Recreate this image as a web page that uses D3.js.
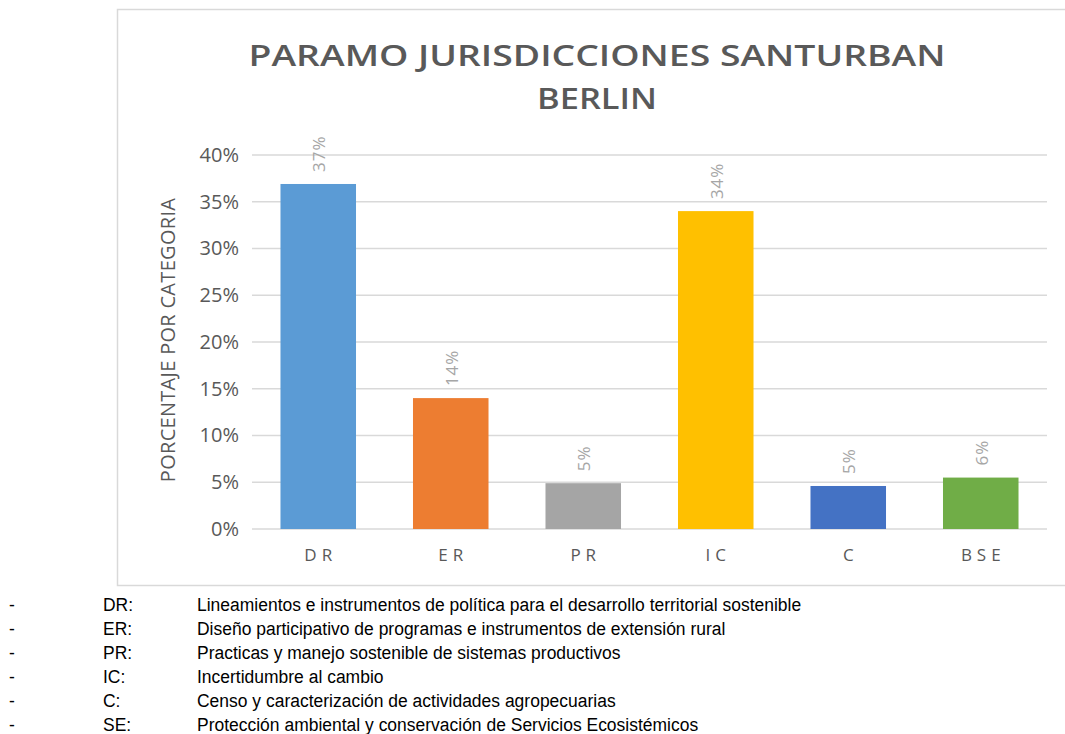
<!DOCTYPE html>
<html>
<head>
<meta charset="utf-8">
<script src="https://cdn.jsdelivr.net/npm/d3@7"></script>
<style>
  body { margin: 0; background: #fff; }
  svg { display: block; }
</style>
</head>
<body>
<svg id="chart" width="1065" height="734"></svg>
<script>
const categories = ["DR", "ER", "PR", "IC", "C", "BSE"];
const values = [0.369, 0.14, 0.049, 0.34, 0.046, 0.055];
const labels = ["37%", "14%", "5%", "34%", "5%", "6%"];
const colors = ["#5b9bd5", "#ed7d31", "#a5a5a5", "#ffc000", "#4472c4", "#70ad47"];
const yTicks = [0, 0.05, 0.1, 0.15, 0.2, 0.25, 0.3, 0.35, 0.4];
const legendKeys = ["DR:", "ER:", "PR:", "IC:", "C:", "SE:"];
const legendTexts = [
  "Lineamientos e instrumentos de política para el desarrollo territorial sostenible",
  "Diseño participativo de programas e instrumentos de extensión rural",
  "Practicas y manejo sostenible de sistemas productivos",
  "Incertidumbre al cambio",
  "Censo y caracterización de actividades agropecuarias",
  "Protección ambiental y conservación de Servicios Ecosistémicos"
];

const svg = d3.select("#chart");
const textGray = "#595959";
const gridGray = "#d9d9d9";

// chart frame
svg.append("rect")
  .attr("x", 117.5).attr("y", 9.5)
  .attr("width", 960).attr("height", 576)
  .attr("fill", "#fff")
  .attr("stroke", gridGray).attr("stroke-width", 1.5);

const plot = { left: 252, right: 1047, top: 155, bottom: 529 };

const x = d3.scaleBand()
  .domain(categories)
  .range([plot.left, plot.right])
  .paddingInner(0.43)
  .paddingOuter(0.215);

const y = d3.scaleLinear().domain([0, 0.4]).range([plot.bottom, plot.top]);

// gridlines
svg.append("g")
  .selectAll("line")
  .data(yTicks)
  .join("line")
  .attr("x1", plot.left).attr("x2", plot.right)
  .attr("y1", d => y(d)).attr("y2", d => y(d))
  .attr("stroke", gridGray).attr("stroke-width", 1.5);

// y axis labels
const yAxis = svg.append("g")
  .attr("transform", `translate(${plot.left - 13},0)`)
  .call(d3.axisLeft(y).tickValues(yTicks).tickFormat(d3.format(".0%")).tickSize(0).tickPadding(0));
yAxis.select(".domain").remove();
yAxis.selectAll("text")
  .attr("fill", textGray)
  .attr("font-family", "'Open Sans', sans-serif")
  .attr("font-size", 20);

// x axis labels, letter-spaced
const xAxis = svg.append("g")
  .attr("transform", `translate(0,${plot.bottom})`)
  .call(d3.axisBottom(x).tickSize(0).tickPadding(20));
xAxis.select(".domain").remove();
xAxis.selectAll("text")
  .attr("fill", textGray)
  .attr("font-family", "'Open Sans', sans-serif")
  .attr("font-size", 17)
  .attr("letter-spacing", 5)
  .attr("dx", 2.5);

// bars
svg.append("g")
  .selectAll("rect")
  .data(categories)
  .join("rect")
  .attr("x", d => x(d))
  .attr("width", x.bandwidth())
  .attr("y", (d, i) => y(values[i]))
  .attr("height", (d, i) => y(0) - y(values[i]))
  .attr("fill", (d, i) => colors[i]);

// value labels, rotated
svg.append("g")
  .selectAll("text")
  .data(categories)
  .join("text")
  .attr("transform", (d, i) =>
    `translate(${x(d) + x.bandwidth() / 2 + 7},${y(values[i]) - 12}) rotate(-90)`)
  .attr("fill", "#a6a6a6")
  .attr("font-family", "'Open Sans', sans-serif")
  .attr("font-size", 17)
  .attr("letter-spacing", 1)
  .text((d, i) => labels[i]);

// y axis title
svg.append("text")
  .attr("transform", `translate(175,${(plot.top + plot.bottom) / 2 - 2}) rotate(-90)`)
  .attr("text-anchor", "middle")
  .attr("fill", textGray)
  .attr("font-family", "'Open Sans', sans-serif")
  .attr("font-size", 20)
  .attr("letter-spacing", 0.3)
  .text("PORCENTAJE POR CATEGORIA");

// title
const title = svg.append("g")
  .attr("fill", textGray)
  .attr("font-family", "'Open Sans', sans-serif")
  .attr("font-weight", 600)
  .attr("font-size", 29)
  .attr("text-anchor", "middle");
title.append("text")
  .attr("x", 597).attr("y", 66)
  .attr("textLength", 697).attr("lengthAdjust", "spacingAndGlyphs")
  .text("PARAMO JURISDICCIONES SANTURBAN");
title.append("text")
  .attr("x", 597).attr("y", 109)
  .attr("textLength", 120).attr("lengthAdjust", "spacingAndGlyphs")
  .text("BERLIN");

// legend below chart (condensed look)
const legend = svg.append("g")
  .attr("font-family", "'Liberation Sans', Arial, sans-serif")
  .attr("font-size", 19)
  .attr("fill", "#000");
const rows = legend.selectAll("g")
  .data(legendKeys)
  .join("g")
  .attr("transform", (d, i) => `translate(0,${611 + i * 24})`);
rows.append("text").attr("transform", "translate(9,0) scale(0.92,1)").text("-");
rows.append("text").attr("transform", "translate(103,0) scale(0.92,1)").text(d => d);
rows.append("text").attr("transform", "translate(197,0) scale(0.92,1)").text((d, i) => legendTexts[i]);
</script>
</body>
</html>
